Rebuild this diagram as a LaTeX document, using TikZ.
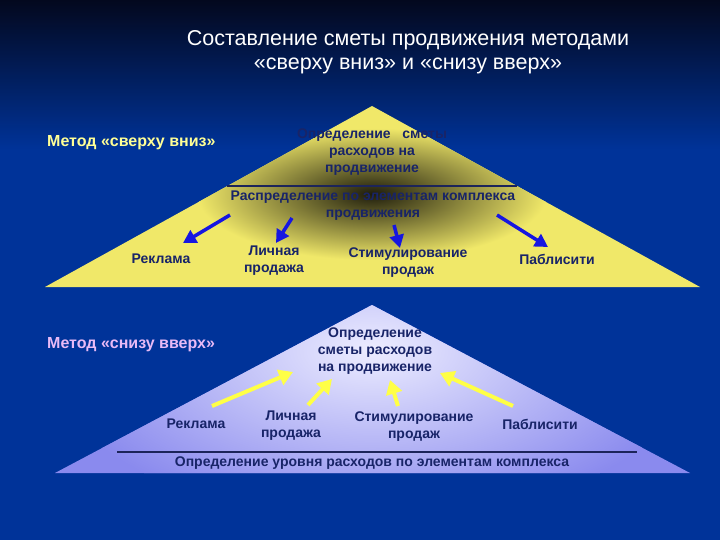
\documentclass[tikz,border=0pt]{standalone}
\usepackage{fontspec}
\setmainfont{Liberation Sans}
\usetikzlibrary{arrows.meta,positioning,calc}
\definecolor{bgblue}{RGB}{0,51,153}
\definecolor{bgdark}{RGB}{3,8,30}
\definecolor{pyryellow}{RGB}{240,232,105}
\definecolor{pyrdark}{RGB}{30,28,12}
\definecolor{pyrviolet}{RGB}{138,138,238}
\definecolor{pyrlight}{RGB}{236,236,255}
\definecolor{textnavy}{RGB}{24,36,104}
\definecolor{linenavy}{RGB}{28,36,90}
\definecolor{arrowblue}{RGB}{22,22,225}
\definecolor{arrowyellow}{RGB}{255,255,70}
\definecolor{methodyellow}{RGB}{255,255,150}
\definecolor{methodpink}{RGB}{232,186,246}

\begin{document}
\begin{tikzpicture}[x=1pt,y=-1pt,
  title node/.style={font=\fontsize{21.5}{24}\selectfont,text=white,align=center,inner sep=0pt},
  box node/.style={font=\bfseries\fontsize{14}{17}\selectfont,text=textnavy,align=center,inner sep=0pt},
  method node/.style={font=\bfseries\fontsize{16}{18}\selectfont,anchor=west,inner sep=0pt},
  down arrow/.style={-{Triangle[length=13pt,width=14pt]},line width=3.5pt,arrowblue},
  up arrow/.style={-{Triangle[length=14pt,width=16pt]},line width=4pt,arrowyellow}]

  % background
  \useasboundingbox (0,0) rectangle (720,540);
  \fill[bgblue] (0,0) rectangle (720,540);
  \shade[top color=bgdark,bottom color=bgblue] (0,0) rectangle (720,150);

  \node[title node] (title) at (408,52) {Составление сметы продвижения методами\\«сверху вниз» и «снизу вверх»};

  % top pyramid
  \coordinate (tapex) at (372,106);
  \coordinate (tleft) at (45,287);
  \coordinate (tright) at (700,287);
  \fill[pyryellow] (tapex) -- (tright) -- (tleft) -- cycle;
  \begin{scope}
    \clip (tapex) -- (tright) -- (tleft) -- cycle;
    \shade[inner color=pyrdark,outer color=pyryellow] (372,194) ellipse [x radius=175pt,y radius=66pt];
  \end{scope}
  \coordinate (tcutL) at ($(tapex)!0.442!(tleft)$);
  \coordinate (tcutR) at ($(tapex)!0.442!(tright)$);
  \draw[linenavy,line width=1.5pt] (tcutL) -- (tcutR);

  \node[method node,text=methodyellow] (topdown) at (47,143) {Метод «сверху вниз»};
  \node[box node] (tbudget) at (372,152) {Определение \ \ сметы\\расходов на\\продвижение};
  \node[box node] (tsplit) at (373,206) {Распределение по элементам комплекса\\продвижения};
  \node[box node] (treklama) at (161,259) {Реклама};
  \node[box node] (tlichn) at (274,261) {Личная\\продажа};
  \node[box node] (tstim) at (408,263) {Стимулирование\\продаж};
  \node[box node] (tpabl) at (557,259) {Паблисити};

  \coordinate (ta1) at (230,215); \coordinate (th1) at (183,243);
  \coordinate (ta2) at (292,218); \coordinate (th2) at (276,243);
  \coordinate (ta3) at (394,225); \coordinate (th3) at (400,248);
  \coordinate (ta4) at (497,215); \coordinate (th4) at (548,247);
  \path[down arrow]
    (ta1) edge (th1)
    (ta2) edge (th2)
    (ta3) edge (th3)
    (ta4) edge (th4);

  % bottom pyramid
  \coordinate (bapex) at (372,305);
  \coordinate (bleft) at (55,473);
  \coordinate (bright) at (690,473);
  \fill[pyrviolet] (bapex) -- (bright) -- (bleft) -- cycle;
  \begin{scope}
    \clip (bapex) -- (bright) -- (bleft) -- cycle;
    \shade[inner color=pyrlight,outer color=pyrviolet] (372,350) ellipse [x radius=330pt,y radius=170pt];
  \end{scope}
  \coordinate (bcutL) at (117,452);
  \coordinate (bcutR) at (637,452);
  \draw[linenavy,line width=1.5pt] (bcutL) -- (bcutR);

  \node[method node,text=methodpink] (bottomup) at (47,345) {Метод «снизу вверх»};
  \node[box node] (bbudget) at (375,351) {Определение\\сметы расходов\\на продвижение};
  \node[box node] (breklama) at (196,424) {Реклама};
  \node[box node] (blichn) at (291,426) {Личная\\продажа};
  \node[box node] (bstim) at (414,427) {Стимулирование\\продаж};
  \node[box node] (bpabl) at (540,424) {Паблисити};
  \node[box node] (blevel) at (372,463) {Определение уровня расходов по элементам комплекса};

  \coordinate (ba1) at (212,406); \coordinate (bh1) at (293,372);
  \coordinate (ba2) at (308,405); \coordinate (bh2) at (332,379);
  \coordinate (ba3) at (398,406); \coordinate (bh3) at (390,380);
  \coordinate (ba4) at (513,406); \coordinate (bh4) at (440,373);
  \path[up arrow]
    (ba1) edge (bh1)
    (ba2) edge (bh2)
    (ba3) edge (bh3)
    (ba4) edge (bh4);
\end{tikzpicture}
\end{document}
